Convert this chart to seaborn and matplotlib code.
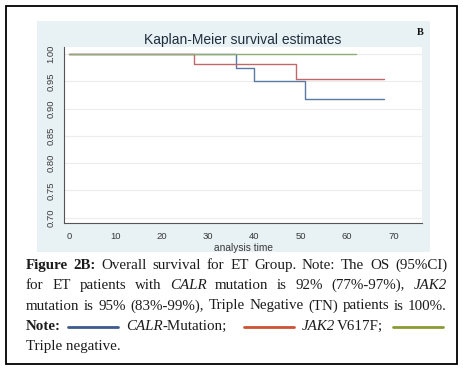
import matplotlib
matplotlib.use("Agg")
import matplotlib.pyplot as plt
import seaborn as sns
import pandas as pd
from matplotlib.patches import Rectangle
from matplotlib.lines import Line2D

# ---- data ----
calr_time = [0, 36, 40, 51, 68]
calr_surv = [1.0, 0.975, 0.950, 0.918, 0.918]
jak2_time = [0, 27, 49, 68]
jak2_surv = [1.0, 0.981, 0.955, 0.955]
tn_time = [0, 62]
tn_surv = [1.0, 1.0]
groups = ["CALR", "JAK2", "TN"]
y_ticks = [0.70, 0.75, 0.80, 0.85, 0.90, 0.95, 1.00]
x_ticks = [0, 10, 20, 30, 40, 50, 60, 70]

df = pd.concat([
    pd.DataFrame({"group": "CALR", "time": calr_time, "surv": calr_surv}),
    pd.DataFrame({"group": "JAK2", "time": jak2_time, "surv": jak2_surv}),
    pd.DataFrame({"group": "TN", "time": tn_time, "surv": tn_surv}),
])

sns.set_style("white")
plt.rcParams["font.family"] = ["Liberation Sans", "DejaVu Sans"]

W, H = 463, 371
fig = plt.figure(figsize=(W / 100, H / 100), dpi=100)
fig.patch.set_facecolor("white")

def fx(px):
    return px / W

def fy(py):
    return 1 - py / H

# outer border
fig.patches.append(Rectangle((fx(6), fy(364)), fx(457) - fx(6), fy(6) - fy(364),
                             transform=fig.transFigure, fill=False,
                             edgecolor="black", linewidth=1.3, zorder=-2))
# stata graph region
fig.patches.append(Rectangle((fx(37), fy(252)), fx(430) - fx(37), fy(21) - fy(252),
                             transform=fig.transFigure, facecolor="#e8f1f3",
                             edgecolor="none", zorder=-2))

ax = fig.add_axes([fx(64.3), fy(223.3), fx(421.7) - fx(64.3), fy(47.3) - fy(223.3)])
ax.set_zorder(2)
ax.set_facecolor("white")

palette = {"CALR": "#5a7aa3", "JAK2": "#c2676b", "TN": "#8fad72"}
sns.lineplot(data=df, x="time", y="surv", hue="group", palette=palette,
             estimator=None, drawstyle="steps-post", linewidth=1.0,
             legend=False, ax=ax, zorder=3)

ax.set_xlim(-1.08, 76.13)
ax.set_ylim(0.6897, 1.0123)
ax.set_yticks(y_ticks)
ax.set_yticklabels([f"{v:.2f}" for v in y_ticks], rotation=90, va="center",
                   fontsize=6.8, color="#3a3a3a")
ax.set_xticks(x_ticks)
ax.set_xticklabels([str(v) for v in x_ticks], fontsize=6.8, color="#3a3a3a")
ax.tick_params(axis="both", direction="out", length=3.5, width=0.7,
               color="#555555", pad=3)
ax.grid(axis="y", color="#ececec", linewidth=0.8, zorder=0)
ax.grid(axis="x", visible=False)
for side in ["top", "right"]:
    ax.spines[side].set_visible(False)
for side in ["left", "bottom"]:
    ax.spines[side].set_color("#555555")
    ax.spines[side].set_linewidth(0.8)
ax.set_xlabel("analysis time", fontsize=7.3, color="#3a3a3a", labelpad=1)
ax.set_ylabel("")

fig.text(fx(243), fy(40), "Kaplan-Meier survival estimates", ha="center",
         va="center", fontsize=10, color="#1f2d3d")
fig.text(fx(420), fy(32.5), "B", ha="center", va="center", fontsize=7.5,
         fontweight="bold", family="Liberation Serif", color="#111111")

# ---- caption ----
renderer = fig.canvas.get_renderer()
CAP = dict(family="Liberation Serif", fontsize=10.8, color="#1c1c1c")
STY = {"r": {}, "b": {"fontweight": "bold"}, "i": {"fontstyle": "italic"}}

def put(x, y, s, st):
    t = fig.text(fx(x), fy(y), s, ha="left", va="baseline", **CAP, **STY[st])
    return t.get_window_extent(renderer).width

def measure(s, st):
    t = fig.text(0, 0, s, **CAP, **STY[st])
    w = t.get_window_extent(renderer).width
    t.remove()
    return w

def justify(words, y, x0=26, x1=447):
    widths = [sum(measure(s, st) for s, st in w) for w in words]
    gap = (x1 - x0 - sum(widths)) / (len(words) - 1)
    x = x0
    for w, wd in zip(words, widths):
        xx = x
        for s, st in w:
            xx += put(xx, y, s, st)
        x += wd + gap

def plain(text):
    return [[(w, "r")] for w in text.split()]

line1 = [[("Figure", "b")], [("2B:", "b")]] + plain(
    "Overall survival for ET Group. Note: The OS (95%CI)")
line2 = plain("for ET patients with") + [[("CALR", "i")]] + plain(
    "mutation is 92% (77%-97%),") + [[("JAK2", "i")]]
line3 = plain("mutation is 95% (83%-99%), Triple Negative (TN) patients is 100%.")

justify(line1, 269)
justify(line2, 289)
justify(line3, 309.5)

y4 = 330
put(26, y4, "Note:", "b")
xx = 126
xx += put(xx, y4, "CALR", "i")
put(xx, y4, "-Mutation;", "r")
put(302, y4, "JAK2", "i")
put(337, y4, "V617F;", "r")
for (a, b), c in zip([(68, 118), (244, 294), (393, 443)],
                     ["#3d5a8c", "#cf5232", "#8b9a35"]):
    fig.lines.append(Line2D([fx(a), fx(b)], [fy(y4 - 3), fy(y4 - 3)],
                            transform=fig.transFigure, color=c, linewidth=2.0))
put(26, 350, "Triple negative.", "r")

fig.savefig("out.png", dpi=100)
